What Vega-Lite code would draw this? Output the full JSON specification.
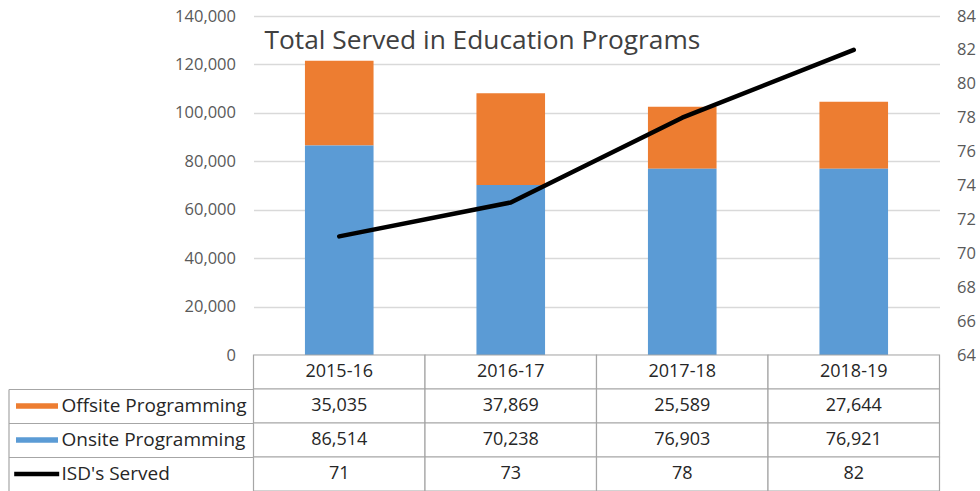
{
  "$schema": "https://vega.github.io/schema/vega-lite/v6.json",
  "padding": {"left": 7.5, "top": 8, "right": 0, "bottom": 0},
  "bounds": "flush",
  "spacing": 0,
  "config": {"view": {"stroke": null}, "font": "Open Sans"},
  "datasets": {
    "rows": [
      {"year": "2015-16", "series": "Offsite Programming", "value": 35035},
      {"year": "2016-17", "series": "Offsite Programming", "value": 37869},
      {"year": "2017-18", "series": "Offsite Programming", "value": 25589},
      {"year": "2018-19", "series": "Offsite Programming", "value": 27644},
      {"year": "2015-16", "series": "Onsite Programming", "value": 86514},
      {"year": "2016-17", "series": "Onsite Programming", "value": 70238},
      {"year": "2017-18", "series": "Onsite Programming", "value": 76903},
      {"year": "2018-19", "series": "Onsite Programming", "value": 76921},
      {"year": "2015-16", "series": "ISD's Served", "value": 71},
      {"year": "2016-17", "series": "ISD's Served", "value": 73},
      {"year": "2017-18", "series": "ISD's Served", "value": 78},
      {"year": "2018-19", "series": "ISD's Served", "value": 82}
    ]
  },
  "resolve": {"scale": {"color": "independent", "shape": "independent"}, "legend": {"color": "independent", "shape": "independent"}},
  "vconcat": [
    {
      "width": 686,
      "height": 339,
      "data": {"name": "rows"},
      "title": {
        "text": "Total Served in Education Programs",
        "anchor": "start",
        "frame": "group",
        "orient": "top",
        "baseline": "alphabetic",
        "offset": -67,
        "dx": 11,
        "font": "Open Sans",
        "fontSize": 26.3,
        "fontWeight": "normal",
        "color": "#404040"
      },
      "layer": [
        {
          "transform": [{"filter": {"field": "series", "oneOf": ["Offsite Programming", "Onsite Programming"]}}],
          "mark": {"type": "bar"},
          "encoding": {
            "x": {"field": "year", "type": "nominal", "sort": null, "axis": null, "scale": {"paddingInner": 0.6, "paddingOuter": 0.3}},
            "y": {
              "field": "value", "type": "quantitative", "stack": "zero",
              "scale": {"domain": [0, 140000], "nice": false},
              "axis": {
                "title": null, "values": [0, 20000, 40000, 60000, 80000, 100000, 120000, 140000],
                "format": ",.0f", "labelFont": "Open Sans", "labelFontSize": 16.5, "labelColor": "#595959",
                "labelPadding": 18, "ticks": false, "domain": false, "grid": true, "gridColor": "#d9d9d9", "gridWidth": 1.3
              }
            },
            "color": {
              "field": "series", "type": "nominal",
              "scale": {"domain": ["Offsite Programming", "Onsite Programming"], "range": ["#ED7D31", "#5B9BD5"]},
              "legend": null
            },
            "order": {"field": "series", "sort": "descending"}
          }
        },
        {
          "transform": [{"filter": {"field": "series", "equal": "ISD's Served"}}],
          "mark": {"type": "line", "color": "#000000", "strokeWidth": 4.5, "strokeCap": "round", "strokeJoin": "round"},
          "encoding": {
            "x": {"field": "year", "type": "nominal", "sort": null, "axis": null},
            "y": {
              "field": "value", "type": "quantitative",
              "scale": {"domain": [64, 84], "nice": false},
              "axis": {
                "orient": "right", "title": null, "values": [64, 66, 68, 70, 72, 74, 76, 78, 80, 82, 84],
                "format": "d", "labelFont": "Open Sans", "labelFontSize": 16.5, "labelColor": "#595959",
                "labelPadding": 17, "ticks": false, "domain": false, "grid": false
              }
            }
          }
        }
      ],
      "resolve": {"scale": {"y": "independent"}}
    },
    {
      "width": 686,
      "height": 34,
      "data": {"name": "rows"},
      "transform": [{"filter": {"field": "series", "equal": "ISD's Served"}}],
      "encoding": {
        "x": {"field": "year", "type": "nominal", "sort": null, "axis": null, "scale": {"paddingInner": 0, "paddingOuter": 0}}
      },
      "layer": [
        {"mark": {"type": "rect", "fill": "#ffffff", "stroke": "#a6a6a6", "strokeWidth": 1.2}},
        {"mark": {"type": "text", "font": "Open Sans", "fontSize": 18, "color": "#262626"}, "encoding": {"text": {"field": "year"}}}
      ]
    },
    {
      "width": 686,
      "height": 102,
      "data": {"name": "rows"},
      "encoding": {
        "x": {"field": "year", "type": "nominal", "sort": null, "axis": null, "scale": {"paddingInner": 0, "paddingOuter": 0}},
        "y": {
          "field": "series", "type": "nominal", "sort": ["Offsite Programming", "Onsite Programming", "ISD's Served"],
          "scale": {"paddingInner": 0, "paddingOuter": 0},
          "axis": {
            "orient": "left", "offset": 245, "title": null, "labels": false, "ticks": true, "tickSize": -245,
            "tickColor": "#a6a6a6", "tickWidth": 1.2, "bandPosition": 0, "domain": true, "domainColor": "#a6a6a6",
            "domainWidth": 1.2, "grid": false
          }
        }
      },
      "layer": [
        {"mark": {"type": "rect", "fill": "#ffffff", "stroke": "#a6a6a6", "strokeWidth": 1.2}},
        {"mark": {"type": "text", "font": "Open Sans", "fontSize": 18, "color": "#262626"}, "encoding": {"text": {"field": "value", "type": "quantitative", "format": ","}}},
        {
          "mark": {"type": "point", "filled": true, "opacity": 0},
          "encoding": {
            "color": {
              "field": "series", "type": "nominal",
              "scale": {"domain": ["Offsite Programming", "Onsite Programming", "ISD's Served"], "range": ["#ED7D31", "#5B9BD5", "#000000"]},
              "legend": {
                "orient": "none", "legendX": -226, "legendY": 7.5, "title": null, "padding": 0, "rowPadding": 14,
                "symbolSize": 144, "symbolOpacity": 1, "labelFont": "Open Sans", "labelFontSize": 19,
                "labelColor": "#262626", "labelOffset": 15, "labelLimit": 400
              }
            },
            "shape": {
              "field": "series", "type": "nominal",
              "scale": {"domain": ["Offsite Programming", "Onsite Programming", "ISD's Served"], "range": ["M-3.5,-0.45H3.5V0.45H-3.5Z", "M-3.5,-0.45H3.5V0.45H-3.5Z", "M-3.8,-0.36H3.7V0.36H-3.8Z"]},
              "legend": {
                "orient": "none", "legendX": -226, "legendY": 7.5, "title": null, "padding": 0, "rowPadding": 14,
                "symbolSize": 144, "symbolOpacity": 1, "labelFont": "Open Sans", "labelFontSize": 19,
                "labelColor": "#262626", "labelOffset": 15, "labelLimit": 400
              }
            }
          }
        }
      ]
    }
  ]
}
